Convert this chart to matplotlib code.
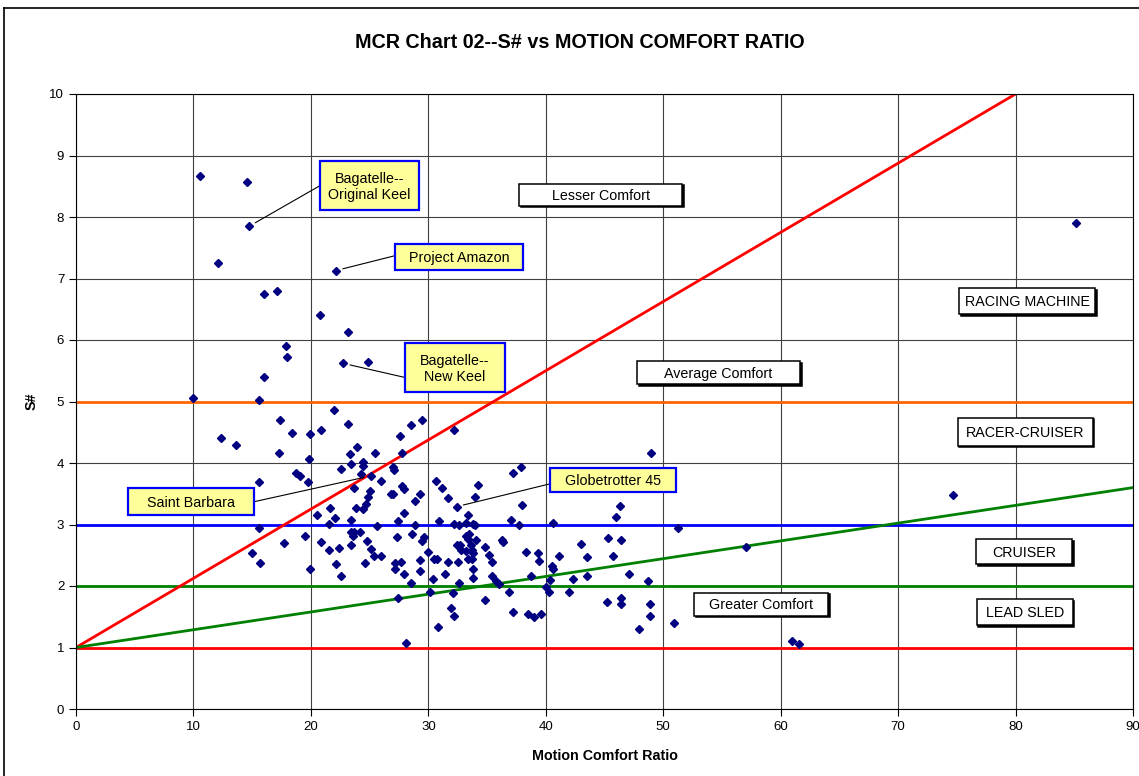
import matplotlib
matplotlib.use("Agg")
import matplotlib.pyplot as plt
from matplotlib.patches import Rectangle
from matplotlib.lines import Line2D

plt.rcParams['font.family'] = ['Liberation Sans', 'DejaVu Sans']

# ---- data (Motion Comfort Ratio, S#) ----
mcr = [10.0, 10.6, 14.6, 14.75, 12.05, 22.15, 16.05, 17.1, 20.75, 23.15, 17.85, 17.95,
       22.75, 24.85, 16.0, 15.6, 21.95, 17.4, 23.2, 12.35, 13.6, 18.35, 19.95, 20.9,
       23.9, 17.25, 23.3, 19.8, 24.4, 24.4, 23.4, 22.55, 18.7, 19.1, 24.3, 15.6, 19.75,
       23.7, 25.0, 24.9, 24.7, 24.4, 21.6, 23.8, 20.5, 22.05, 23.45, 21.5, 15.6, 19.5,
       17.7, 20.9, 23.4, 23.7, 23.6, 24.2, 23.4, 22.4, 24.8, 15.0, 15.7, 21.5, 19.9,
       22.15, 22.6, 24.6, 25.1,
       28.55, 29.5, 27.6, 32.2, 25.5, 27.8, 27.0, 27.1, 25.1, 26.0, 30.65, 31.2, 31.7,
       32.4, 34.2, 34.0, 33.4, 37.2, 37.9, 38.0, 26.8, 27.0, 27.8, 27.9, 29.3, 28.9,
       27.9, 27.4, 25.6, 28.9, 30.9, 32.2, 32.6, 33.2, 33.8, 34.0, 37.0, 37.7, 40.6,
       27.3, 28.6, 29.6, 29.5, 33.2, 34.1, 32.4, 32.7, 33.6, 34.8, 36.3, 36.4, 25.4,
       26.0, 27.2, 27.7, 27.2, 27.95, 29.3, 29.3, 28.5, 30.0, 30.4, 30.1, 27.4, 30.5,
       30.7, 31.4, 31.65, 32.5, 33.4, 33.5, 32.8, 33.2, 33.7, 33.8, 33.7, 33.8, 33.8,
       33.4, 32.6, 32.1, 31.9, 32.2, 30.8, 35.2, 35.4, 35.4, 34.8, 35.8, 36.0, 28.1,
       38.3, 39.3, 39.4, 40.5, 40.6, 38.7, 37.2, 38.5, 39.0, 39.6, 40.4, 40.0, 40.3,
       36.9,
       48.95, 46.3, 46.0, 51.3, 45.3, 46.4, 43.0, 41.1, 43.5, 45.75, 47.1, 42.3, 43.5,
       48.7, 42.0, 45.2, 46.4, 46.4, 48.9, 48.9, 47.9, 50.9,
       57.05, 61.0, 61.6, 74.7, 85.15]
snum = [5.06, 8.67, 8.57, 7.85, 7.25, 7.13, 6.75, 6.80, 6.41, 6.13, 5.91, 5.72,
        5.62, 5.65, 5.40, 5.02, 4.86, 4.70, 4.63, 4.41, 4.30, 4.48, 4.47, 4.54,
        4.26, 4.17, 4.15, 4.07, 4.01, 3.95, 3.98, 3.90, 3.83, 3.79, 3.82, 3.69, 3.69,
        3.60, 3.55, 3.44, 3.34, 3.26, 3.27, 3.27, 3.16, 3.11, 3.08, 3.01, 2.94, 2.81,
        2.70, 2.72, 2.88, 2.88, 2.81, 2.88, 2.66, 2.62, 2.73, 2.54, 2.38, 2.59, 2.28,
        2.35, 2.17, 2.38, 2.60,
        4.62, 4.70, 4.44, 4.53, 4.16, 4.17, 3.93, 3.88, 3.79, 3.70, 3.71, 3.59, 3.43,
        3.29, 3.65, 3.44, 3.16, 3.84, 3.93, 3.31, 3.49, 3.49, 3.63, 3.58, 3.50, 3.38,
        3.19, 3.06, 2.98, 3.00, 3.06, 3.01, 3.00, 3.03, 3.01, 3.00, 3.08, 3.00, 3.03,
        2.79, 2.84, 2.79, 2.73, 2.82, 2.75, 2.66, 2.66, 2.66, 2.63, 2.74, 2.72, 2.49,
        2.49, 2.38, 2.39, 2.28, 2.19, 2.43, 2.25, 2.05, 2.55, 2.11, 1.90, 1.80, 2.44,
        2.44, 2.20, 2.39, 2.39, 2.76, 2.84, 2.59, 2.57, 2.59, 2.53, 2.44, 2.27, 2.13,
        2.44, 2.05, 1.88, 1.64, 1.52, 1.33, 2.51, 2.39, 2.16, 1.77, 2.08, 2.04, 1.08,
        2.55, 2.54, 2.41, 2.33, 2.28, 2.16, 1.57, 1.54, 1.50, 1.55, 2.09, 1.98, 1.90,
        1.91,
        4.17, 3.30, 3.13, 2.94, 2.78, 2.74, 2.69, 2.49, 2.47, 2.49, 2.20, 2.11, 2.16,
        2.08, 1.91, 1.74, 1.81, 1.71, 1.71, 1.52, 1.30, 1.40,
        2.63, 1.11, 1.06, 3.48, 7.90]

# reference lines
level_x = [0, 90]
levels = [1, 2, 3, 5]
level_colors = ['#FF0000', '#008000', '#0000FF', '#FF6600']
red_diag_x = [0, 80]
red_diag_y = [1, 10]
green_diag_x = [0, 90]
green_diag_y = [1, 3.6]

# labelled boats: (name, x, y)
boats = [("Bagatelle--\nOriginal Keel", 14.75, 7.85),
         ("Project Amazon", 22.15, 7.13),
         ("Bagatelle--\nNew Keel", 22.75, 5.62),
         ("Saint Barbara", 25.1, 3.79),
         ("Globetrotter 45", 32.4, 3.29)]

zone_labels = ["Lesser Comfort", "Average Comfort", "Greater Comfort",
               "RACING MACHINE", "RACER-CRUISER", "CRUISER", "LEAD SLED"]

# ---- figure ----
W, H = 1139, 776
fig = plt.figure(figsize=(W / 100, H / 100), dpi=100)
L, R, T, B = 76, 1133, 94, 709
ax = fig.add_axes([L / W, 1 - B / H, (R - L) / W, (B - T) / H])
ax.set_xlim(0, 90)
ax.set_ylim(0, 10)
ax.set_xticks(range(0, 91, 10))
ax.set_yticks(range(0, 11, 1))
ax.tick_params(direction='out', length=5, width=0.8, labelsize=9.5, colors='black')
ax.grid(True, color='#404040', linewidth=0.8)
ax.set_axisbelow(True)
for s in ax.spines.values():
    s.set_color('black')
    s.set_linewidth(0.8)

for lv, c in zip(levels, level_colors):
    ax.plot(level_x, [lv, lv], color=c, lw=2.0, zorder=2)
ax.plot(red_diag_x, red_diag_y, color='#FF0000', lw=2.0, zorder=2)
ax.plot(green_diag_x, green_diag_y, color='#008000', lw=2.0, zorder=2)

ax.plot(mcr, snum, linestyle='none', marker='D', markersize=3.9,
        color='#000080', zorder=3, clip_on=False)

PX = 90 / (R - L)
PY = 10 / (B - T)


def box(cx, cy, wpx, hpx, text, fc, ec, lw, shadow=False):
    w, h = wpx * PX, hpx * PY
    if shadow:
        ax.add_patch(Rectangle((cx - w / 2 + 1.5 * PX, cy - h / 2 - 1.5 * PY), w, h,
                               facecolor='black', edgecolor='black', lw=lw, zorder=5))
    ax.add_patch(Rectangle((cx - w / 2, cy - h / 2), w, h, facecolor=fc,
                           edgecolor=ec, lw=lw, zorder=5))
    ax.text(cx, cy - 1.0 * PY, text, ha='center', va='center', fontsize=10.3,
            color='black', zorder=6, linespacing=1.2)
    return w, h


# zone label boxes: (center x, center y, width px, height px)
zone_pos = [(44.66, 8.36, 163, 22), (54.71, 5.47, 163, 23), (58.33, 1.70, 134, 23),
            (80.98, 6.63, 136, 26), (80.83, 4.51, 135, 28), (80.72, 2.56, 96, 25),
            (80.78, 1.57, 96, 26)]
for lab, (cx, cy, wp, hp) in zip(zone_labels, zone_pos):
    box(cx, cy, wp, hp, lab, 'white', 'black', 1.1, shadow=True)

# yellow boat boxes: (center x, center y, width px, height px, rel x, rel y)
boat_pos = [(24.99, 8.51, 99, 49, 0.0, 0.5),
            (32.61, 7.35, 128, 26, 0.0, 0.55),
            (32.27, 5.55, 100, 49, 0.0, 0.3),
            (9.79, 3.37, 126, 27, 1.0, 0.5),
            (45.73, 3.72, 126, 24, 0.0, 0.35)]
for (name, bx, by), (cx, cy, wp, hp, rx, ry) in zip(boats, boat_pos):
    w, h = box(cx, cy, wp, hp, name, '#FFFF99', '#0000FF', 1.6)
    sx = cx - w / 2 + rx * w
    sy = cy - h / 2 + ry * h
    ax.annotate('', xy=(bx, by), xytext=(sx, sy),
                arrowprops=dict(arrowstyle='-', lw=0.8, color='black',
                                shrinkA=0, shrinkB=5), zorder=4)

ax.set_xlabel('Motion Comfort Ratio', fontsize=10.3, fontweight='bold', labelpad=12)
ax.set_ylabel('S#', fontsize=10.3, fontweight='bold', labelpad=8)
fig.text(580 / W, 1 - 42 / H, 'MCR Chart 02--S# vs MOTION COMFORT RATIO',
         ha='center', va='center', fontsize=14.2, fontweight='bold')

# outer chart border (top and left visible)
fig.add_artist(Line2D([4 / W, 1.0], [1 - 8 / H, 1 - 8 / H], color='black', lw=1.2,
                      transform=fig.transFigure))
fig.add_artist(Line2D([4 / W, 4 / W], [0, 1 - 8 / H], color='black', lw=1.2,
                      transform=fig.transFigure))

fig.savefig('out.png', dpi=100)
